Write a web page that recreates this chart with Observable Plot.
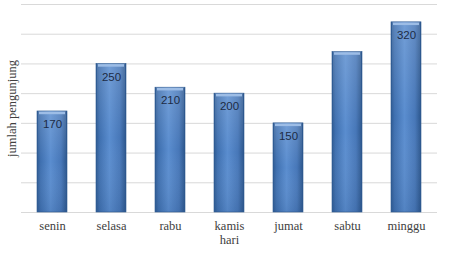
<!DOCTYPE html>
<html>
<head>
<meta charset="utf-8">
<script src="https://cdn.jsdelivr.net/npm/d3@7"></script>
<script src="https://cdn.jsdelivr.net/npm/@observablehq/plot@0.6"></script>
<style>
  html, body { margin: 0; padding: 0; background: #fff; }
</style>
</head>
<body>
<div id="chart"></div>
<script>
const days = ["senin", "selasa", "rabu", "kamis", "jumat", "sabtu", "minggu"];
const visitors = [170, 250, 210, 200, 150, 270, 320];
const valueLabels = ["170", "250", "210", "200", "150", "", "320"];
const yTicks = [0, 50, 100, 150, 200, 250, 300, 350];

const data = days.map((d, i) => ({day: d, value: visitors[i], label: valueLabels[i]}));

const chart = Plot.plot({
  width: 452,
  height: 253,
  marginLeft: 21,
  marginRight: 15,
  marginTop: 4,
  marginBottom: 41,
  style: {background: "#fff", overflow: "visible"},
  x: {domain: days, paddingInner: 0.49, paddingOuter: 0.245, align: 0.5, label: null, axis: null},
  y: {domain: [0, 350], label: null, axis: null},
  marks: [
    Plot.ruleY(yTicks, {stroke: "#d9d9d9", strokeWidth: 1}),
    Plot.barY(data, {x: "day", y: "value", fill: "url(#barGrad)", stroke: "#2f5b91", strokeWidth: 0.6}),
    Plot.barY(data, {x: "day", y: "value", fill: "url(#barGradV)", insetLeft: 1, insetRight: 1}),
    Plot.tickY(data, {x: "day", y: "value", stroke: "#9dbde6", strokeWidth: 2.5, dy: 1.5, insetLeft: 2, insetRight: 2}),
    Plot.text(data, {x: "day", y: "value", text: "label", dy: 13, fill: "#1d2b45",
      fontSize: 11.5, fontFamily: "Liberation Sans, sans-serif"}),
    Plot.axisX({tickSize: 0, tickPadding: 9, fontSize: 12.5, fontFamily: "Liberation Serif, serif", color: "#404040", label: null}),
    Plot.text(["hari"], {frameAnchor: "bottom", dy: 31, fontSize: 12.5, fontFamily: "Liberation Serif, serif", fill: "#404040"}),
    Plot.text(["jumlah pengunjung"], {frameAnchor: "left", textAnchor: "middle", rotate: -90, dx: -10, fontSize: 12.5, fontFamily: "Liberation Serif, serif", fill: "#404040"})
  ]
});

const ns = "http://www.w3.org/2000/svg";
const defs = document.createElementNS(ns, "defs");
defs.innerHTML = `
  <linearGradient id="barGrad" x1="0" y1="0" x2="1" y2="0">
    <stop offset="0" stop-color="#2e5a92"/>
    <stop offset="0.12" stop-color="#3f70b0"/>
    <stop offset="0.45" stop-color="#5a8dcf"/>
    <stop offset="0.8" stop-color="#4777b8"/>
    <stop offset="1" stop-color="#2b558b"/>
  </linearGradient>
  <linearGradient id="barGradV" x1="0" y1="0" x2="0" y2="1">
    <stop offset="0" stop-color="#ffffff" stop-opacity="0.15"/>
    <stop offset="0.5" stop-color="#ffffff" stop-opacity="0"/>
    <stop offset="1" stop-color="#1a3a66" stop-opacity="0.12"/>
  </linearGradient>`;
chart.insertBefore(defs, chart.firstChild);
document.getElementById("chart").appendChild(chart);
</script>
</body>
</html>
